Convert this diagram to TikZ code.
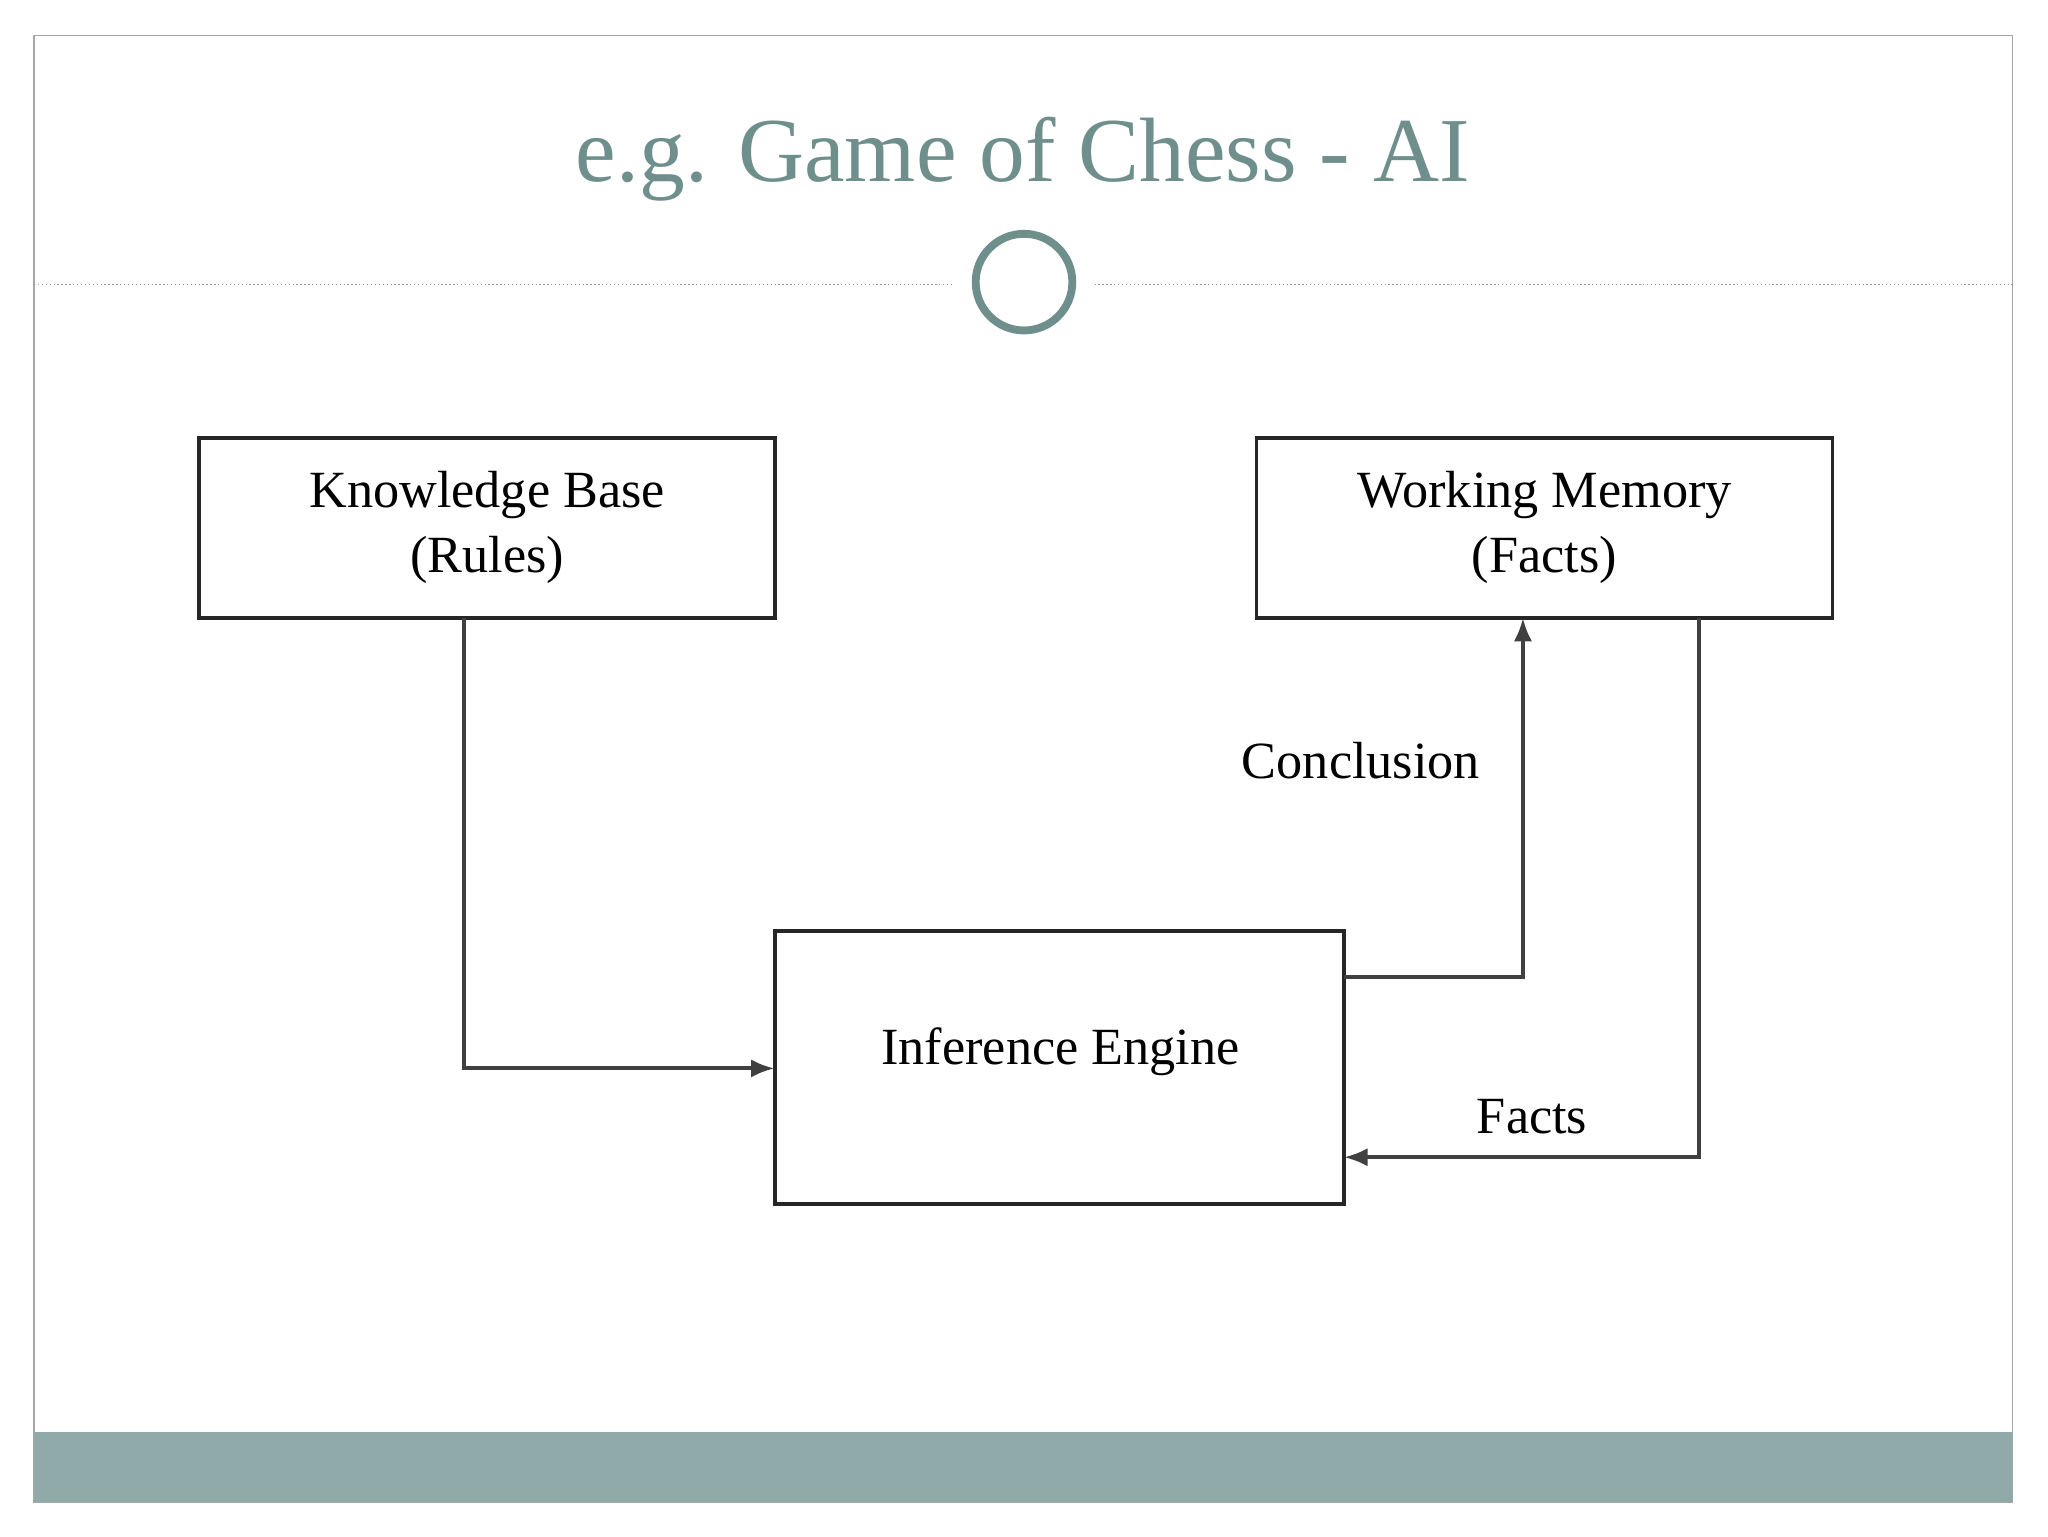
\documentclass[tikz,border=0pt]{standalone}
\usepackage{fontspec}
\setmainfont{Liberation Serif}
\usetikzlibrary{arrows.meta}
\definecolor{teal1}{HTML}{6F8F8D}
\definecolor{band}{HTML}{8FAAA8}
\begin{document}
\begin{tikzpicture}[x=1pt,y=-1pt,
  box/.style={draw=black!85,line width=3pt,minimum width=441pt,inner sep=0pt,align=center,font=\fontsize{40}{50}\selectfont},
  conn/.style={draw=black!75,line width=3pt,-{Latex[length=18pt,width=14pt]}},
  lbl/.style={font=\fontsize{40}{48}\selectfont,inner sep=0pt}]
\useasboundingbox (0,0) rectangle (1568,1176);
\fill[white] (0,0) rectangle (1568,1176);
\draw[black!35,line width=1pt] (26,27) rectangle (1541,1150);
\fill[band] (26,1096) rectangle (1541,1150);
\node[text=teal1,font=\fontsize{70}{80}\selectfont,inner sep=0pt] (title) at (783,122) {e.g. Game of Chess - AI};
\draw[black!40,dotted,line width=1pt] (26,218) -- (730,218);
\draw[black!40,dotted,line width=1pt] (838,218) -- (1541,218);
\draw[teal1,line width=6pt] (784,216) circle (37);
\node[box,minimum height=138pt] (kb) at (373,404) {Knowledge Base\\(Rules)};
\node[box,minimum height=138pt] (wm) at (1182.5,404) {Working Memory\\(Facts)};
\node[box,minimum width=436pt,minimum height=209pt] (ie) at (811,817.5) {};
\node[lbl] (ietext) at (812,805) {Inference Engine};
\coordinate (a1) at (355,473);
\coordinate (a2) at (593,818);
\draw[conn] (a1) |- (a2);
\coordinate (c1) at (1029,748);
\coordinate (c2) at (1166,473);
\draw[conn] (c1) -| (c2);
\node[lbl] (concl) at (1042,582) {Conclusion};
\coordinate (f1) at (1301,473);
\coordinate (f2) at (1029,886);
\draw[conn] (f1) |- (f2);
\node[lbl] (facts) at (1173,855) {Facts};
\end{tikzpicture}
\end{document}
